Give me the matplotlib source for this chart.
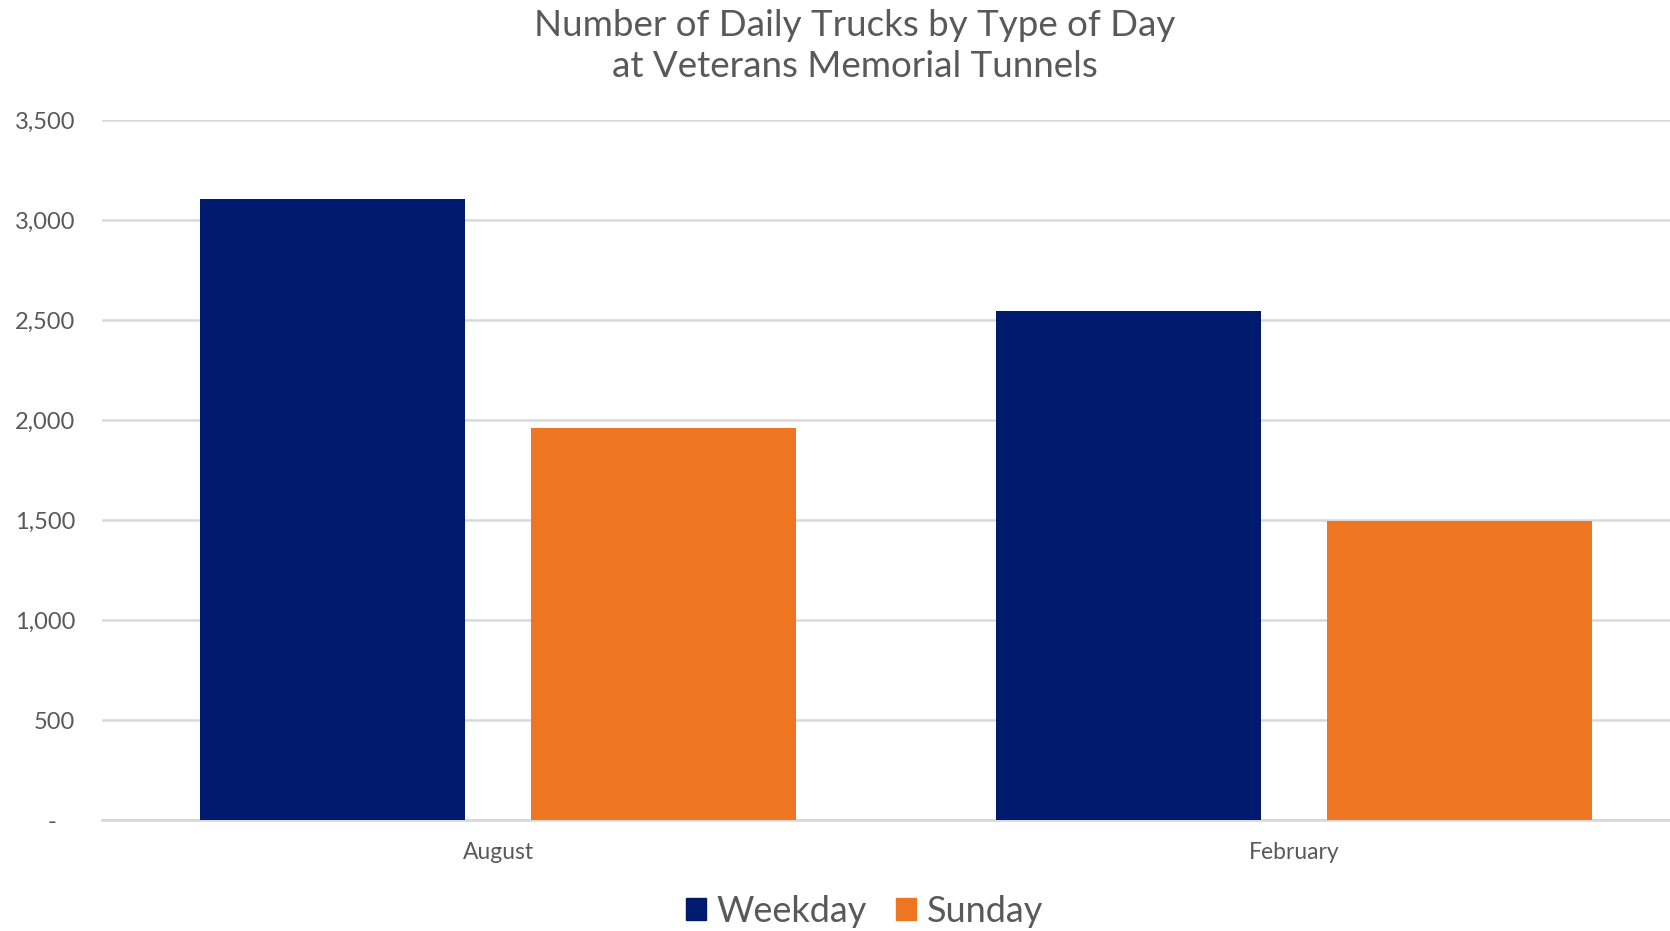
import numpy as np
import matplotlib
matplotlib.use("Agg")
import matplotlib.pyplot as plt
from matplotlib.patches import Patch

months = ["August", "February"]
weekday = [3105, 2545]
sunday = [1960, 1495]
yticks = [0, 500, 1000, 1500, 2000, 2500, 3000, 3500]

plt.rcParams["font.family"] = ["Lato", "DejaVu Sans"]
navy = "#001A6E"
orange = "#EE7623"
grey_txt = "#595959"

fig = plt.figure(figsize=(16.7, 9.31), dpi=100)
ax = fig.add_axes([0.0611, 0.1192, 0.9389, 0.7519])

x = np.arange(len(months))
w = 0.333
off = 0.208
ax.bar(x - off, weekday, w, color=navy, zorder=3)
ax.bar(x + off, sunday, w, color=orange, zorder=3)

ax.set_xlim(-0.4975, 1.472)
ax.set_ylim(0, 3500)
ax.set_yticks(yticks)
ax.set_yticklabels(["-   "] + [f"{v:,}" for v in yticks[1:]])
ax.set_xticks(x)
ax.set_xticklabels(months)
ax.tick_params(axis="y", length=0, pad=19.5, labelsize=17, labelcolor=grey_txt)
ax.tick_params(axis="x", length=0, pad=16, labelsize=16.5, labelcolor=grey_txt)
ax.grid(axis="y", color="#D9D9D9", linewidth=1.8, zorder=0)
for s in ["top", "right", "left"]:
    ax.spines[s].set_visible(False)
ax.spines["bottom"].set_color("#D9D9D9")
ax.spines["bottom"].set_linewidth(2)

fig.text(0.512, 0.99, "Number of Daily Trucks by Type of Day\nat Veterans Memorial Tunnels",
         ha="center", va="top", fontsize=26.5, color=grey_txt, linespacing=1.3)

handles = [Patch(color=navy, label="Weekday"), Patch(color=orange, label="Sunday")]
fig.legend(handles=handles, loc="center", bbox_to_anchor=(0.5175, 0.021), ncol=2,
           frameon=False, fontsize=26, labelcolor=grey_txt, handlelength=0.55,
           handleheight=0.55, handletextpad=0.3, columnspacing=0.8)

fig.savefig("out.png", dpi=100)
